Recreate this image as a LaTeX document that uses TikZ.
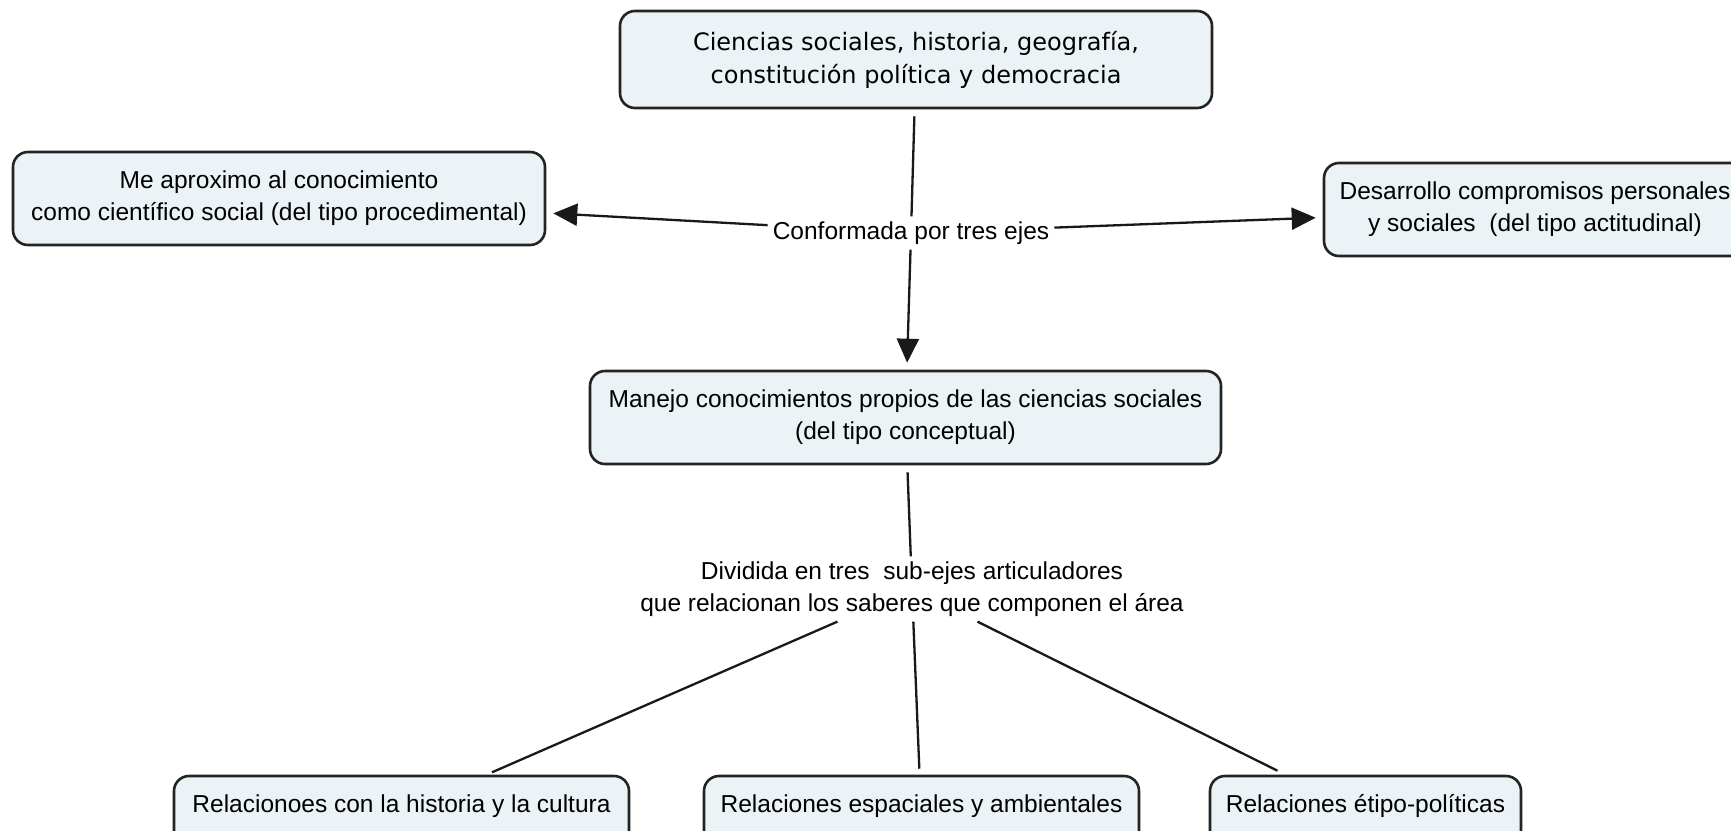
\documentclass[tikz,border=0pt]{standalone}
\usepackage{fontspec}
\setmainfont{Liberation Sans}
\newfontfamily\dvfont{DejaVu Sans}
\usetikzlibrary{arrows.meta}
\definecolor{boxfill}{RGB}{236,243,246}
\definecolor{boxline}{RGB}{35,35,35}
\begin{document}
\begin{tikzpicture}[x=1pt,y=-1pt,
  concept/.style={draw=boxline, line width=2.6pt, rounded corners=15pt, fill=boxfill, align=center, font=\fontsize{24.5}{32}\selectfont, inner sep=0pt},
  linklabel/.style={align=center, font=\fontsize{24.5}{32}\selectfont, inner sep=5pt},
  conn/.style={line width=2.3pt, draw=black!90},
  arr/.style={conn, -{Triangle[length=24pt,width=22pt]}},
]
\clip (0,0) rectangle (1731,830);
\fill[white] (0,0) rectangle (1731,830);

\node[concept, font=\dvfont\fontsize{24}{33}\selectfont, minimum width=592pt, minimum height=97pt] (top) at (916,59.5)
  {Ciencias sociales, historia, geografía,\\constitución política y democracia};
\node[concept, minimum width=532pt, minimum height=93pt] (apx) at (279,198.5)
  {Me aproximo al conocimiento\\como científico social (del tipo procedimental)};
\node[concept, minimum width=422pt, minimum height=93pt] (des) at (1535,209.5)
  {Desarrollo compromisos personales\\y sociales\ \ (del tipo actitudinal)};
\node[concept, minimum width=631pt, minimum height=93pt] (mid) at (905.5,417.5)
  {Manejo conocimientos propios de las ciencias sociales\\(del tipo conceptual)};

\node[linklabel] (ejes) at (911,233) {Conformada por tres ejes};
\node[linklabel] (sub) at (912,589)
  {Dividida en tres\ \ sub-ejes articuladores\\que relacionan los saberes que componen el área};

\node[concept, minimum width=455pt] (hist) at (401.5,822.5) {\rule[-57pt]{0pt}{93pt}Relacionoes con la historia y la cultura};
\node[concept, minimum width=435pt] (esp) at (921.5,822.5) {\rule[-57pt]{0pt}{93pt}Relaciones espaciales y ambientales};
\node[concept, minimum width=311pt] (eti) at (1365.5,822.5) {\rule[-57pt]{0pt}{93pt}Relaciones étipo-políticas};

\draw[conn, shorten <=7pt] (top) -- (ejes);
\draw[arr, shorten >=7pt] (ejes) -- (apx);
\draw[arr, shorten >=7pt] (ejes) -- (des);
\draw[arr, shorten >=7pt] (ejes) -- (mid);
\draw[conn, shorten <=7pt] (mid) -- (sub);
\draw[conn, shorten >=6pt] (sub) -- ([xshift=85pt]hist.north);
\draw[conn, shorten >=6pt] (sub) -- (esp);
\draw[conn, shorten >=9pt] (sub) -- ([xshift=-80pt]eti.north);
\end{tikzpicture}
\end{document}
